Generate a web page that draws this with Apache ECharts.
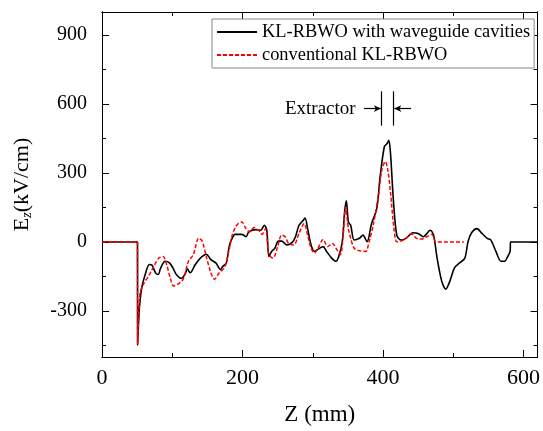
<!DOCTYPE html>
<html>
<head>
<meta charset="utf-8">
<script src="https://cdn.jsdelivr.net/npm/echarts@6/dist/echarts.min.js"></script>
<style>
html,body{margin:0;padding:0;background:#fff;}
#chart{width:543px;height:431px;}
</style>
</head>
<body>
<div id="chart"></div>
<script>
// ---- data ----
var seriesNames = ['KL-RBWO with waveguide cavities', 'conventional KL-RBWO'];

var cavZ = [0,50.5,50.7,53,56.6,61.5,67.4,71.3,76.2,80,83.6,90,96,100.8,105.8,113,118,121.5,125.4,132.8,140,148.5,155,162,168.7,172,177,181,184.5,189.4,199,205,209,219,226,231,234.6,237.6,241.5,246,251,255.8,263,270.5,275.4,280.4,285.3,289,292.7,297.6,302.5,308.4,314.8,319.7,327,333,337,342,345.3,347.8,350.7,354,359,366.4,371.4,377.3,383.7,391,396,401.9,405.8,408.3,410.7,414.7,419.6,425.5,432.8,442.7,450,457.4,467.3,472,477,483.5,489.4,495.3,501.7,509,516.5,521,526.3,533.7,541,548.4,553.4,560.7,568,573,578,581,581.5,620];
var cavEz = [0,0,-447,-297,-198,-141,-98,-101,-134,-141,-112,-84,-91,-112,-141,-158,-141,-117,-134,-98,-70,-53,-77,-91,-120,-106,-91,-20,11,33,33,23,44,54,51,73,51,-63,-41,-27,4,4,-13,-3,23,73,90,104,58,-13,-41,-30,-20,-41,-70,-84,-63,1,129,179,87,73,9,16,30,1,80,144,286,414,428,442,385,186,30,9,16,40,37,23,51,30,-70,-169,-205,-169,-112,-91,-70,1,41,58,37,16,9,-41,-84,-84,-60,-40,0,0];

var convZ = [0,50.5,50.7,54,59,66.4,73.8,81,87,92,97,101.8,108,115.6,123,130,137.7,142.6,149,155,160,167,174.6,180.5,185.4,191.8,199,205,210,216.4,222.8,227.8,232.7,237.6,243.5,249.4,255.8,260.7,265.6,273,280.4,287.8,292.7,297.6,302.5,307.4,314.8,321.2,328,334.5,339.4,343.3,346.8,350.7,354,359,366.4,375.3,380.2,386,393.4,398.4,403.3,406.8,410.7,415.6,419.6,425.5,432.8,440.3,447.6,455,462.4,469.7,475.6,515];
var convEz = [0,0,-447,-226,-183,-148,-105,-70,-63,-98,-155,-191,-183,-162,-84,-55,16,4,-70,-134,-162,-134,-110,-41,30,73,87,58,44,63,51,33,58,-55,-70,-27,30,23,-6,-13,37,80,30,-27,-48,-27,11,-20,-6,-34,-55,30,151,58,16,-27,-38,-41,1,73,200,314,350,314,215,58,1,4,16,36,16,13,23,33,0,0];

var xMajor = [0, 200, 400, 600];
var xMinor = [100, 300, 500];
var yMajor = [-300, 0, 300, 600, 900];
var yMinor = [-450, -150, 150, 450, 750];

// extractor annotation (data coordinates)
var extractorEdges = [398, 414.5];
var extractorSpan = [506, 655];
var extractorArrowY = 580;
var extractorArrowLeft = [373, 397];
var extractorArrowRight = [440, 416];
var extractorLabel = 'Extractor';

function zip(a, b) { return a.map(function (v, i) { return [v, b[i]]; }); }

var FONT = "'Liberation Serif','Times New Roman',serif";
var chart = echarts.init(document.getElementById('chart'), null, {renderer: 'canvas'});

function xAxisDef(pos, ticks, len, labels) {
  return {
    type: 'value', position: pos, min: 0, max: 620, gridIndex: 0,
    axisLine: {show: true, onZero: false, lineStyle: {color: '#000', width: 1}},
    axisTick: {show: true, inside: true, length: len, customValues: ticks, lineStyle: {color: '#000', width: 1}},
    axisLabel: labels ? {show: true, customValues: ticks, color: '#000', fontFamily: FONT, fontSize: 22, margin: 10} : {show: false},
    splitLine: {show: false},
    name: labels ? 'Z (mm)' : '', nameLocation: 'middle', nameGap: 46,
    nameTextStyle: {color: '#000', fontFamily: FONT, fontSize: 23}
  };
}
function yAxisDef(pos, ticks, len, labels) {
  var a = {
    type: 'value', position: pos, min: -500, max: 1000, gridIndex: 0,
    axisLine: {show: true, onZero: false, lineStyle: {color: '#000', width: 1}},
    axisTick: {show: true, inside: true, length: len, customValues: ticks, lineStyle: {color: '#000', width: 1}},
    axisLabel: labels ? {show: true, customValues: ticks, color: '#000', fontFamily: FONT, fontSize: 20, margin: 15} : {show: false},
    splitLine: {show: false}
  };
  if (labels) {
    a.name = '{a|E}{b|z}{a|(kV/cm)}';
    a.nameLocation = 'middle';
    a.nameGap = 68;
    a.nameTextStyle = {
      color: '#000', fontFamily: FONT, fontSize: 22,
      rich: {
        a: {fontFamily: FONT, fontSize: 22, color: '#000'},
        b: {fontFamily: FONT, fontSize: 14, fontStyle: 'italic', color: '#000', padding: [9, 0, 0, 0]}
      }
    };
  }
  return a;
}

var option = {
  animation: false,
  backgroundColor: '#fff',
  grid: {left: 102, right: 5, top: 12, bottom: 68, containLabel: false},
  xAxis: [
    xAxisDef('bottom', xMajor, 7, true),
    xAxisDef('bottom', xMinor, 4, false),
    xAxisDef('top', xMajor, 7, false),
    xAxisDef('top', xMinor, 4, false)
  ],
  yAxis: [
    yAxisDef('left', yMajor, 7, true),
    yAxisDef('left', yMinor, 4, false),
    yAxisDef('right', yMajor, 7, false),
    yAxisDef('right', yMinor, 4, false)
  ],
  legend: {
    show: true, orient: 'vertical', left: 212, top: 19,
    backgroundColor: '#fff',
    borderColor: '#888', borderWidth: 1, borderRadius: 0,
    padding: [4, 4, 4, 4], itemGap: 5, itemWidth: 40, itemHeight: 14,
    itemStyle: {opacity: 0},
    textStyle: {color: '#000', fontFamily: FONT, fontSize: 18.4},
    data: seriesNames
  },
  series: [
    {
      name: seriesNames[1], type: 'line', xAxisIndex: 0, yAxisIndex: 0,
      data: zip(convZ, convEz), showSymbol: false, symbol: 'none', smooth: 0.3,
      lineStyle: {color: '#ff0000', width: 1.5, type: [4, 2]},
      itemStyle: {color: '#ff0000'}, z: 3
    },
    {
      name: seriesNames[0], type: 'line', xAxisIndex: 0, yAxisIndex: 0,
      data: zip(cavZ, cavEz), showSymbol: false, symbol: 'none', smooth: 0.3,
      lineStyle: {color: '#000', width: 1.6},
      itemStyle: {color: '#000'}, z: 2,
      markLine: {
        silent: true, animation: false, symbol: ['none', 'none'],
        label: {show: false},
        lineStyle: {color: '#000', width: 1.2, type: 'solid'},
        data: [
          [{coord: [extractorEdges[0], extractorSpan[0]]}, {coord: [extractorEdges[0], extractorSpan[1]]}],
          [{coord: [extractorEdges[1], extractorSpan[0]]}, {coord: [extractorEdges[1], extractorSpan[1]]}],
          [{coord: [extractorArrowLeft[0], extractorArrowY], symbol: 'none'}, {coord: [extractorArrowLeft[1], extractorArrowY], symbol: 'arrow', symbolSize: [5, 7]}],
          [{coord: [extractorArrowRight[0], extractorArrowY], symbol: 'none'}, {coord: [extractorArrowRight[1], extractorArrowY], symbol: 'arrow', symbolSize: [5, 7]}]
        ]
      }
    }
  ]
};
chart.setOption(option);

var p = chart.convertToPixel({xAxisIndex: 0, yAxisIndex: 0}, [361, extractorArrowY]);
chart.setOption({
  graphic: [{
    type: 'text', x: p[0], y: p[1], z: 100,
    style: {text: extractorLabel, fill: '#000', font: '19px ' + FONT, textAlign: 'right', textVerticalAlign: 'middle'}
  }]
});
</script>
</body>
</html>
